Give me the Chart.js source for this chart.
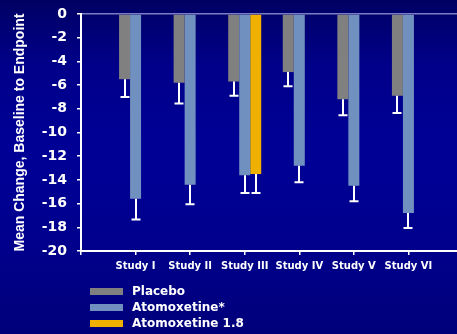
<!DOCTYPE html>
<html>
<head>
<meta charset="utf-8">
<script src="https://cdn.jsdelivr.net/npm/chart.js@4.4.1/dist/chart.umd.min.js"></script>
<style>
  html, body { margin: 0; padding: 0; overflow: hidden; width: 457px; height: 334px; }
  body { background: linear-gradient(to bottom, #000062 0%, #00006c 4%, #00008a 20%, #000096 45%, #00008e 70%, #00007a 100%); }
  canvas { display: block; }
</style>
</head>
<body>
<canvas id="c" width="463" height="334"></canvas>
<script>
const categories = ['Study I', 'Study II', 'Study III', 'Study IV', 'Study V', 'Study VI'];
const placebo     = [-5.5, -5.8, -5.7, -4.9, -7.2, -6.9];
const placeboErr  = [1.5, 1.75, 1.2, 1.2, 1.35, 1.45];
const atomox      = [-15.6, -14.4, -13.6, -12.8, -14.5, -16.8];
const atomoxErr   = [1.75, 1.65, 1.5, 1.4, 1.3, 1.25];
const atomox18    = [null, null, -13.5, null, null, null];
const atomox18Err = [null, null, 1.6, null, null, null];
const yTicks = [0, -2, -4, -6, -8, -10, -12, -14, -16, -18, -20];

// pad one empty slot on each side so the value axis sits one category left of Study I
const pad = a => [null, ...a, null];
const labels = ['', ...categories, ''];

const errorBars = {
  id: 'errorBars',
  afterDatasetsDraw(chart) {
    const ctx = chart.ctx;
    const y = chart.scales.y;
    ctx.save();
    ctx.strokeStyle = '#ffffff';
    ctx.lineWidth = 2;
    chart.data.datasets.forEach((ds, i) => {
      const meta = chart.getDatasetMeta(i);
      meta.data.forEach((el, j) => {
        const v = ds.data[j], e = ds.errors[j];
        if (v == null || e == null) return;
        const x = Math.round(el.x);
        const y0 = y.getPixelForValue(v);
        const y1 = y.getPixelForValue(v - e);
        ctx.beginPath();
        ctx.moveTo(x, y0);
        ctx.lineTo(x, y1);
        ctx.moveTo(x - 4.5, y1);
        ctx.lineTo(x + 4.5, y1);
        ctx.stroke();
      });
    });
    ctx.restore();
  }
};

const customLegend = {
  id: 'customLegend',
  afterDraw(chart) {
    const ctx = chart.ctx;
    ctx.save();
    ctx.font = 'bold 12px "DejaVu Sans"';
    ctx.textBaseline = 'middle';
    chart.data.datasets.forEach((ds, i) => {
      const cy = 291.5 + i * 16;
      ctx.fillStyle = ds.backgroundColor;
      ctx.fillRect(90, cy - 3.5, 33, 7);
      ctx.fillStyle = '#ffffff';
      ctx.fillText(ds.label, 132, cy + 0.5);
    });
    ctx.restore();
  }
};

new Chart(document.getElementById('c'), {
  type: 'bar',
  data: {
    labels: labels,
    datasets: [
      { label: 'Placebo', data: pad(placebo), errors: pad(placeboErr), backgroundColor: '#808080' },
      { label: 'Atomoxetine*', data: pad(atomox), errors: pad(atomoxErr), backgroundColor: '#7090c0' },
      { label: 'Atomoxetine 1.8', data: pad(atomox18), errors: pad(atomox18Err), backgroundColor: '#f0b000' }
    ]
  },
  options: {
    responsive: false,
    animation: false,
    devicePixelRatio: 1,
    layout: { padding: { top: 14, right: 0, bottom: 0, left: 0 } },
    datasets: { bar: { categoryPercentage: 0.605, barPercentage: 1.0, borderWidth: 0 } },
    plugins: { legend: { display: false }, tooltip: { enabled: false } },
    scales: {
      x: {
        type: 'category',
        offset: false,
        grid: { display: true, drawOnChartArea: false, drawTicks: true, tickLength: 4, color: '#ffffff', offset: false, lineWidth: 1.5 },
        border: { display: true, color: '#ffffff', width: 2 },
        ticks: { color: '#ffffff', font: { family: 'DejaVu Sans', weight: 'bold', size: 10 }, padding: 5, autoSkip: false, maxRotation: 0 },
        afterFit(scale) { scale.height = 83; scale.paddingLeft = 0; scale.paddingRight = 0; }
      },
      y: {
        min: -20, max: 0,
        afterBuildTicks(scale) { scale.ticks = yTicks.map(v => ({ value: v })); },
        grid: {
          drawOnChartArea: true,
          drawTicks: true,
          tickLength: 4,
          color: c => (c.tick && c.tick.value === 0) ? '#7c7cc4' : 'rgba(0,0,0,0)',
          tickColor: '#ffffff',
          lineWidth: 1.5
        },
        border: { display: true, color: '#ffffff', width: 2 },
        ticks: { color: '#ffffff', font: { family: 'DejaVu Sans', weight: 'bold', size: 14 }, padding: 10 },
        title: {
          display: true,
          text: 'Mean Change, Baseline to Endpoint',
          color: '#ffffff',
          font: { family: 'Liberation Sans', weight: 'bold', size: 14 },
          padding: { top: 12, bottom: 0 }
        },
        afterFit(scale) { scale.width = 81; scale.paddingTop = 0; scale.paddingBottom = 0; }
      }
    }
  },
  plugins: [errorBars, customLegend]
});
</script>
</body>
</html>
